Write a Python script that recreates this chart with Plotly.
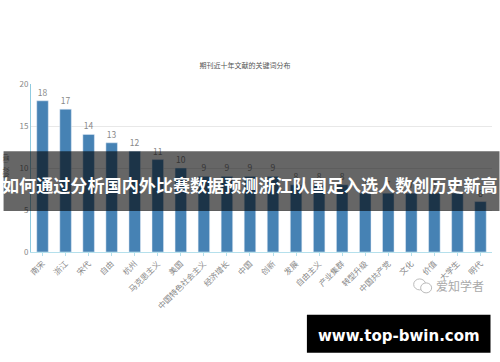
import plotly.graph_objects as go

categories = ["南宋","浙江","宋代","自由","杭州","马克思主义","美国","中国特色社会主义","经济增长","中国","创新","发展","自由主义","产业集群","转型升级","中国共产党","文化","价值","大学生","明代"]
values = [18,17,14,13,12,11,10,9,9,9,9,8,8,8,7,7,7,7,7,6]
chart_title = "期刊近十年文献的关键词分布"
y_title = "频次（篇）"
banner = "如何通过分析国内外比赛数据预测浙江队国足入选人数创历史新高"
site = "www.top-bwin.com"
watermark = "爱知学者"
CJK = "Noto Sans CJK SC"

L, R, T, B = 30.5, 7.5, 83.5, 110
PW, PH = 500 - L - R, 362 - T - B
def px(x): return (x - L) / PW
def py(y): return (362 - B - y) / PH

def note(text, x, y, size, color, family=CJK, angle=0):
    return dict(text=text, xref="paper", yref="paper", x=px(x), y=py(y), xanchor="center", yanchor="middle",
                showarrow=False, textangle=angle, font=dict(size=size, color=color, family=family))

fig = go.Figure(go.Bar(x=categories, y=values, width=0.5, marker_color="#4682b4",
    text=values, textposition="outside", cliponaxis=False,
    textfont=dict(size=8.5, color="#888", family=CJK)))
fig.update_layout(width=500, height=362, margin=dict(l=L, r=R, t=T, b=B),
    plot_bgcolor="white", paper_bgcolor="white", showlegend=False, font=dict(family=CJK),
    title=dict(text=chart_title, x=0.49, xanchor="center", y=0.82, yanchor="middle", font=dict(size=7, color="#555")),
    shapes=[dict(type="rect", xref="paper", yref="paper", x0=px(3), x1=px(500), y0=py(211), y1=py(151),
                 fillcolor="rgba(0,0,0,0.6)", line_width=0, layer="above"),
            dict(type="rect", xref="paper", yref="paper", x0=px(307), x1=px(491), y0=py(353), y1=py(315),
                 fillcolor="black", line_width=0, layer="above"),
            dict(type="circle", xref="paper", yref="paper", x0=px(414), x1=px(426), y0=py(290), y1=py(279),
                 line=dict(color="#bbb", width=1), fillcolor="rgba(0,0,0,0)"),
            dict(type="circle", xref="paper", yref="paper", x0=px(421), x1=px(432), y0=py(293), y1=py(283),
                 line=dict(color="#bbb", width=1), fillcolor="white")],
    annotations=[
        note("<b>"+banner+"</b>", 250, 184.5, 17.1, "white"),
        note("<b>"+site+"</b>", 399, 336, 15, "white", "DejaVu Sans"),
        note(watermark, 460, 286, 12, "#aaa"),
        note(y_title, 6, 164, 5.5, "#333", angle=-90),
    ])
fig.update_xaxes(tickangle=-45, tickfont=dict(size=8, color="#888"), showline=True, linecolor="#b5e0ec", linewidth=1,
                 ticks="outside", ticklen=3, tickcolor="#b5e0ec", showgrid=False, automargin=False)
fig.update_yaxes(range=[0,20], dtick=5, tickfont=dict(size=8, color="#888"), showline=True, linecolor="#8fcbe0", linewidth=1,
                 gridcolor="#e8e8e8", ticklen=0, automargin=False, zeroline=False)
fig.write_html("out.html", config=dict(displayModeBar=False), post_script="document.body.style.margin='0';")
